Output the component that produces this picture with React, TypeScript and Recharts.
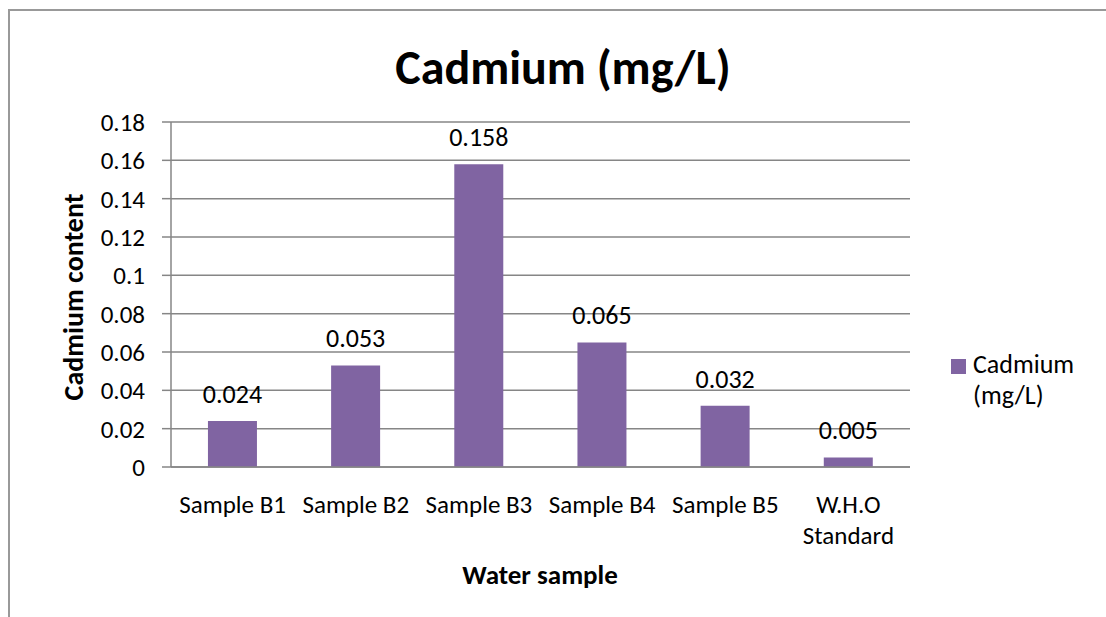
import { BarChart, Bar, XAxis, YAxis, CartesianGrid, LabelList } from 'recharts';

const categories = ['Sample B1', 'Sample B2', 'Sample B3', 'Sample B4', 'Sample B5', 'W.H.O\nStandard'];
const cadmium = [0.024, 0.053, 0.158, 0.065, 0.032, 0.005];
const yTicks = [0, 0.02, 0.04, 0.06, 0.08, 0.1, 0.12, 0.14, 0.16, 0.18];

const FONT = 'Carlito, Lato, "Open Sans", sans-serif';
const PURPLE = '#8064A2';
const GRID = '#868686';

const data = categories.map((name, i) => ({ name, value: cadmium[i] }));

// 줄바꿈(\n) 있는 카테고리 라벨 처리
function CategoryTick({ x, y, payload }: { x?: number; y?: number; payload?: { value: string } }) {
  const lines = String(payload?.value ?? '').split('\n');
  return (
    <g transform={`translate(${x},${y})`}>
      {lines.map((line, i) => (
        <text key={i} x={0} y={38 + i * 31} textAnchor="middle" fill="#000" fontSize={25} fontFamily={FONT}>
          {line}
        </text>
      ))}
    </g>
  );
}

export default function App() {
  return (
    <div style={{ position: 'absolute', left: 0, top: 0, width: 1106, height: 617, background: '#fff', overflow: 'hidden' }}>
      <div
        style={{
          position: 'absolute',
          left: 8,
          top: 9,
          width: 1200,
          height: 700,
          borderLeft: '2px solid #999',
          borderTop: '2px solid #999',
        }}
      />
      <div
        style={{
          position: 'absolute',
          left: 0,
          width: 1126,
          top: 38,
          textAlign: 'center',
          fontFamily: FONT,
          fontWeight: 'bold',
          fontSize: 48,
          lineHeight: 'normal',
          color: '#000',
        }}
      >
        Cadmium (mg/L)
      </div>
      <div
        style={{
          position: 'absolute',
          left: 73,
          top: 297,
          transform: 'translate(-50%, -50%) rotate(-90deg)',
          whiteSpace: 'nowrap',
          fontFamily: FONT,
          fontWeight: 'bold',
          fontSize: 28,
        }}
      >
        Cadmium content
      </div>
      <div
        style={{
          position: 'absolute',
          left: 540,
          top: 574,
          transform: 'translate(-50%, -50%)',
          whiteSpace: 'nowrap',
          fontFamily: FONT,
          fontWeight: 'bold',
          fontSize: 27,
        }}
      >
        Water sample
      </div>
      <div style={{ position: 'absolute', left: 951, top: 359, width: 15, height: 15, background: PURPLE }} />
      <div style={{ position: 'absolute', left: 973, top: 349, fontFamily: FONT, fontSize: 26, lineHeight: '31px', whiteSpace: 'nowrap' }}>
        Cadmium
        <br />
        (mg/L)
      </div>
      <div style={{ position: 'absolute', left: 0, top: 0 }}>
        <BarChart
          width={1106}
          height={617}
          data={data}
          margin={{ top: 122, right: 196, bottom: 90, left: 111 }}
          barCategoryGap="30%"
        >
          <CartesianGrid vertical={false} stroke={GRID} strokeWidth={1.5} />
          <XAxis
            dataKey="name"
            axisLine={{ stroke: GRID, strokeWidth: 1.5 }}
            tickLine={false}
            tick={<CategoryTick />}
            interval={0}
            height={60}
          />
          <YAxis
            domain={[0, 0.18]}
            ticks={yTicks}
            width={60}
            axisLine={{ stroke: GRID, strokeWidth: 1.5 }}
            tickLine={{ stroke: GRID, strokeWidth: 1.5 }}
            tickSize={9}
            tickMargin={17}
            tick={{ fill: '#000', fontSize: 25, fontFamily: FONT }}
            interval={0}
          />
          <Bar dataKey="value" fill={PURPLE} isAnimationActive={false}>
            <LabelList dataKey="value" position="top" offset={18} fill="#000" fontSize={26} fontFamily={FONT} />
          </Bar>
        </BarChart>
      </div>
    </div>
  );
}
